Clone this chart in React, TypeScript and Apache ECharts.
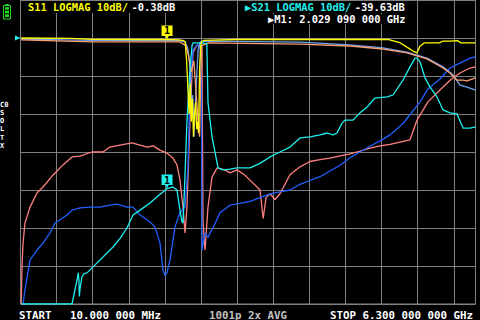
import React, { useEffect, useRef } from "react";
import * as echarts from "echarts";

// Frequency in MHz, level in dB
const s11Yellow: number[][] = [
  [10, 0], [700, -0.1], [1000, -0.35], [1700, -0.4], [2029, -0.38], [2200, -0.5], [2260, -0.7],
  [2280, -1], [2300, -6], [2320, -14], [2335, -20], [2350, -12], [2365, -22], [2380, -16],
  [2395, -26], [2410, -20], [2425, -17], [2440, -24], [2450, -22], [2465, -25], [2480, -8],
  [2495, -2], [2510, -1], [2540, -0.6], [3000, -0.4], [5100, -0.4], [5250, -1.2], [5350, -2.4],
  [5450, -3.6], [5490, -3.9], [5530, -2.2], [5590, -1.3], [5800, -1.3], [5850, -0.8], [5950, -0.8],
  [6050, -0.7], [6100, -1.3], [6300, -1.3],
];
const s11Blue: number[][] = [
  [10, -0.3], [1000, -0.6], [2200, -0.7], [2280, -1], [2320, -3], [2350, -8], [2370, -20],
  [2385, -15], [2400, -26], [2420, -18], [2440, -10], [2460, -3], [2490, -1], [2600, -0.8],
  [3870, -1.1], [4562, -1.8], [5019, -2.6], [5351, -3.7], [5490, -4.5], [5628, -5.3],
  [5850, -7.6], [5988, -9.7], [6085, -12.4], [6182, -12.9], [6300, -13.7],
];
const s11Peach: number[][] = [
  [10, -0.5], [1000, -1.0], [2200, -1], [2290, -2], [2330, -5], [2360, -9], [2400, -6],
  [2430, -14], [2460, -22], [2480, -26], [2495, -10], [2515, -2], [2600, -1.3],
  [3870, -1.6], [4562, -2.1], [5019, -2.9], [5351, -3.9], [5628, -5.5], [5850, -7.9],
  [5947, -9.2], [6044, -11.1], [6127, -11.1], [6182, -11.3], [6300, -10.5],
];
const s21Cyan: number[][] = [
  [10, -70], [713, -70], [790, -63], [800, -61.8], [809, -63.7], [815, -68], [824, -66],
  [850, -62.9], [880, -62], [921, -61.8], [990, -60.5], [1101, -58.4], [1198, -56.6],
  [1281, -55], [1377, -52.8], [1474, -50], [1558, -46.6], [1655, -45.3], [1793, -43.4],
  [1890, -41.8], [1973, -40.5], [2029, -39.63], [2111, -39.2], [2167, -40], [2208, -45.3],
  [2236, -48.4], [2250, -48.7], [2270, -40], [2305, -22], [2347, -8], [2375, -2], [2390, -1.3],
  [2500, -1.3], [2580, -1.5], [2596, -17], [2652, -26], [2693, -30], [2735, -34.2], [2804, -34.7],
  [2900, -34.5], [2998, -34.2], [3178, -34.2], [3316, -33], [3455, -31.3], [3593, -30],
  [3731, -28.7], [3870, -26.3], [4008, -26], [4147, -25.5], [4244, -25], [4327, -25.5],
  [4382, -25], [4452, -22.4], [4493, -21.6], [4604, -21.6], [4701, -19.7], [4798, -18.2],
  [4908, -15.8], [5075, -15.5], [5158, -15], [5296, -11.1], [5393, -7.6], [5462, -5.3],
  [5490, -5.3], [5532, -6.3], [5601, -10.5], [5670, -12.9], [5767, -15.5], [5850, -18.9],
  [5947, -19.7], [6044, -20], [6127, -23.7], [6224, -23.7], [6300, -23.4],
];
const s21Salmon: number[][] = [
  [10, -70], [21, -60], [35, -54], [62, -48.7], [132, -44.5], [228, -40.8], [312, -39.2],
  [450, -36.1], [588, -33.4], [713, -31.3], [824, -31.1], [990, -30], [1142, -30],
  [1239, -28.7], [1377, -28.2], [1544, -27.6], [1655, -28.2], [1751, -28.7], [1835, -28.4],
  [1931, -29.5], [2028, -30.3], [2111, -31.6], [2167, -33.4], [2208, -37.4], [2250, -44.5],
  [2278, -51.3], [2305, -44.5], [2347, -21.6], [2388, -3.9], [2444, -1.8], [2485, -2.4],
  [2513, -3.9], [2527, -48.4], [2555, -55.8], [2596, -44.5], [2652, -36.6], [2721, -34.2],
  [2831, -34.7], [2901, -35.5], [2998, -34.7], [3100, -36], [3178, -37.4], [3316, -40],
  [3360, -47.5], [3400, -42], [3455, -41], [3524, -42.5], [3593, -41], [3662, -38.5],
  [3731, -36], [3870, -33.9], [4008, -32.5], [4147, -32], [4285, -31.6], [4424, -31],
  [4562, -30.5], [4701, -29.8], [4839, -29], [4978, -28.4], [5116, -28], [5255, -27.4],
  [5393, -26.8], [5490, -21.6], [5642, -16.8], [5808, -13.7], [5947, -11.1], [6085, -9.2],
  [6224, -7.9], [6300, -7.6],
];
const s21Blue: number[][] = [
  [35, -70], [62, -66.3], [132, -58.4], [228, -55.8], [312, -54], [408, -51.3], [478, -48.7],
  [644, -46.6], [713, -45.3], [824, -44.7], [962, -44.5], [1101, -44.5], [1239, -44],
  [1336, -43.7], [1474, -44.5], [1558, -44.5], [1655, -46.6], [1793, -48.4], [1862, -49.7],
  [1931, -53.9], [1973, -61.1], [2000, -62.5], [2028, -61.8], [2070, -58.4], [2139, -49.7],
  [2208, -46], [2278, -44.5], [2319, -34], [2347, -12.9], [2388, -3.2], [2444, -1.8],
  [2485, -2], [2505, -8], [2513, -55.8], [2555, -51.3], [2596, -52.5], [2624, -51.3],
  [2665, -50], [2762, -46], [2901, -44], [3039, -43.5], [3178, -43], [3316, -42], [3455, -41],
  [3593, -40.5], [3731, -40], [3870, -38.5], [4008, -37.5], [4147, -36.5], [4285, -35],
  [4424, -33.5], [4562, -31.5], [4701, -30], [4839, -28.5], [5005, -26.8], [5116, -25.5],
  [5296, -22.5], [5393, -20.2], [5532, -16.8], [5642, -13.4], [5808, -10.8], [5947, -7.9],
  [6085, -6.6], [6224, -5.3], [6300, -5],
];
const markerFreq = 2029;
const markerS11 = -0.38;
const markerS21 = -39.63;
const sideLabels = ["C0", "S", "O", "L", "T", "X"];

const FONT = '"DejaVu Sans Mono", monospace';
const F = `bold 10.4px ${FONT}`;
const markerPath = "path://M0,0 L10,0 L10,9 L6.5,9 L5,12 L3.5,9 L0,9 Z";

function line(name: string, data: number[][], color: string, z: number, marker?: number[]) {
  const s: any = {
    name, type: "line", data, showSymbol: false, symbol: "none", z,
    lineStyle: { color, width: 1.3 }, itemStyle: { color },
  };
  if (marker) {
    s.markPoint = {
      symbol: markerPath, symbolSize: [11, 14], symbolOffset: [0, -7], symbolKeepAspect: false,
      itemStyle: { color },
      label: { show: true, formatter: "1", color: "#000", fontSize: 10, fontWeight: "bold", fontFamily: FONT, offset: [0, -1.5] },
      data: [{ coord: marker }],
    };
  }
  return s;
}

export default function App() {
  const ref = useRef<HTMLDivElement>(null);
  useEffect(() => {
    const chart = echarts.init(ref.current!, undefined, { renderer: "svg" });
    chart.setOption({
      animation: false,
      backgroundColor: "#000",
      grid: { left: 20.5, right: 4.5, top: 0, bottom: 16, show: true, borderColor: "#808080", borderWidth: 1 },
      xAxis: {
        type: "value", min: 0, max: 6300, interval: 500,
        axisLine: { show: false }, axisTick: { show: false }, axisLabel: { show: false },
        splitLine: { show: true, lineStyle: { color: "#808080", width: 1 } },
      },
      yAxis: {
        type: "value", min: -70, max: 10, interval: 10,
        axisLine: { show: false }, axisTick: { show: false }, axisLabel: { show: false },
        splitLine: { show: true, lineStyle: { color: "#808080", width: 1 } },
      },
      series: [
        line("S21c", s21Salmon, "#ff8080", 2),
        line("S21b", s21Blue, "#2060ff", 3),
        line("S11b", s11Blue, "#70a0f0", 4),
        line("S11c", s11Peach, "#f8a070", 4),
        line("S21", s21Cyan, "#20f0f0", 5, [markerFreq, markerS21]),
        line("S11", s11Yellow, "#ffff00", 6, [markerFreq, markerS11]),
      ],
      graphic: [
        {
          type: "text", x: 26, y: 7, z: 100,
          style: {
            text: "{y|S11 LOGMAG 10dB/} {w|-0.38dB}", textVerticalAlign: "middle",
            backgroundColor: "#000", padding: [0, 2],
            rich: { y: { fill: "#ffff00", font: F }, w: { fill: "#ffffff", font: F } },
          },
        },
        {
          type: "text", x: 243, y: 7, z: 100,
          style: {
            text: "{c|\u25B6S21 LOGMAG 10dB/} {w|-39.63dB}", textVerticalAlign: "middle",
            backgroundColor: "#000", padding: [0, 2],
            rich: { c: { fill: "#20f0f0", font: F }, w: { fill: "#ffffff", font: F } },
          },
        },
        {
          type: "text", x: 266, y: 19.3, z: 100,
          style: {
            text: "\u25B6M1: 2.029 090 000 GHz", fill: "#ffffff", font: F,
            textVerticalAlign: "middle", backgroundColor: "#000", padding: [0, 2],
          },
        },
        ...sideLabels.map((t, i) => ({
          type: "text", x: 0, y: 101 + i * 8.3, z: 100,
          style: { text: t, fill: "#ffffff", font: `bold 7px ${FONT}`, textVerticalAlign: "top" },
        })),
        { type: "text", x: 19, y: 315, z: 100, style: { text: "START", fill: "#fff", font: `bold 10.8px ${FONT}`, textVerticalAlign: "middle" } },
        { type: "text", x: 70, y: 315, z: 100, style: { text: "10.000 000 MHz", fill: "#fff", font: `bold 10.8px ${FONT}`, textVerticalAlign: "middle" } },
        { type: "text", x: 209, y: 315, z: 100, style: { text: "1001p 2x AVG", fill: "#c0c0c0", font: `bold 10.8px ${FONT}`, textVerticalAlign: "middle" } },
        { type: "text", x: 330, y: 315, z: 100, style: { text: "STOP 6.300 000 000 GHz", fill: "#fff", font: `bold 10.8px ${FONT}`, textVerticalAlign: "middle" } },
        { type: "polygon", z: 100, shape: { points: [[15, 35.5], [20.5, 38], [15, 40.5]] }, style: { fill: "#20f0f0" } },
        { type: "rect", z: 100, shape: { x: 3.5, y: 5.5, width: 7, height: 13.5 }, style: { fill: "none", stroke: "#20e020", lineWidth: 1 } },
        { type: "rect", z: 100, shape: { x: 5.5, y: 4, width: 3, height: 1.5 }, style: { fill: "#20e020" } },
        { type: "rect", z: 100, shape: { x: 5, y: 7.2, width: 4, height: 2.5 }, style: { fill: "#20e020" } },
        { type: "rect", z: 100, shape: { x: 5, y: 10.8, width: 4, height: 2.5 }, style: { fill: "#20e020" } },
        { type: "rect", z: 100, shape: { x: 5, y: 14.4, width: 4, height: 2.5 }, style: { fill: "#20e020" } },
      ],
    });
    return () => chart.dispose();
  }, []);
  return (
    <div
      ref={ref}
      style={{ position: "fixed", left: 0, top: 0, width: 480, height: 320, background: "#000" }}
    />
  );
}
